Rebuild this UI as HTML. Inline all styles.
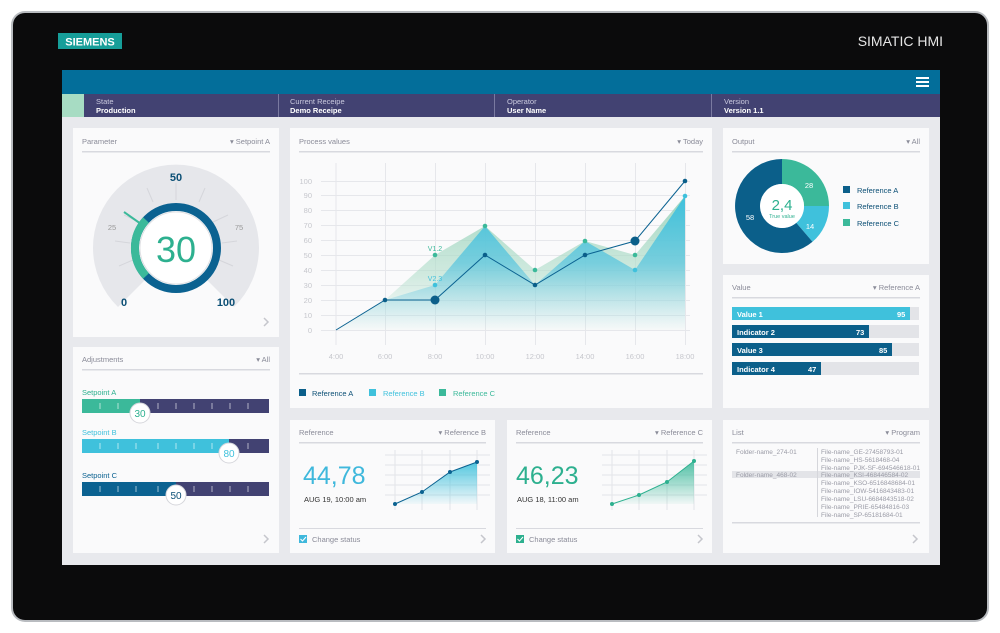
<!DOCTYPE html>
<html><head><meta charset="utf-8"><style>
body{margin:0;background:#fff;}
svg{display:block;font-family:"Liberation Sans",sans-serif;}
</style></head><body>
<svg width="1000" height="633" viewBox="0 0 1000 633">
<defs>
<linearGradient id="gb" gradientUnits="userSpaceOnUse" x1="0" y1="196" x2="0" y2="330"><stop offset="0" stop-color="#3fc1dc" stop-opacity="1"/><stop offset="0.5" stop-color="#5cc6de" stop-opacity="0.75"/><stop offset="1" stop-color="#8fd3e6" stop-opacity="0"/></linearGradient>
<linearGradient id="gc" gradientUnits="userSpaceOnUse" x1="0" y1="196" x2="0" y2="330"><stop offset="0" stop-color="#8fcfb5" stop-opacity="0.85"/><stop offset="0.6" stop-color="#b5dfcd" stop-opacity="0.6"/><stop offset="1" stop-color="#d5ece2" stop-opacity="0.1"/></linearGradient>
<linearGradient id="gs" x1="0" y1="0" x2="0" y2="1"><stop offset="0" stop-color="#3fc1dc" stop-opacity="0.9"/><stop offset="1" stop-color="#3fc1dc" stop-opacity="0.05"/></linearGradient>
<linearGradient id="gg" x1="0" y1="0" x2="0" y2="1"><stop offset="0" stop-color="#3bb99a" stop-opacity="0.9"/><stop offset="1" stop-color="#3bb99a" stop-opacity="0.05"/></linearGradient>
</defs>
<rect x="11" y="11" width="978" height="611" rx="14" fill="#b9bcc0"/>
<rect x="13" y="13" width="974" height="607" rx="12" fill="#0b0b0c"/>
<rect x="58" y="33" width="64" height="16" fill="#169e99"/>
<text x="90" y="45.5" font-size="11" font-weight="bold" fill="#fff" text-anchor="middle">SIEMENS</text>
<text x="943" y="46" font-size="14" fill="#e6e6e6" text-anchor="end">SIMATIC HMI</text>
<rect x="62" y="70" width="878" height="495" fill="#e8e9ed"/>
<rect x="62" y="70" width="878" height="24" fill="#036e9a"/>
<g fill="#fff"><rect x="916" y="77" width="13" height="2"/><rect x="916" y="81" width="13" height="2"/><rect x="916" y="85" width="13" height="2"/></g>
<rect x="62" y="94" width="878" height="23" fill="#424272"/>
<rect x="62" y="94" width="22" height="23" fill="#a7dcc3"/>
<g stroke="#7a7aa0" stroke-width="1"><line x1="278.5" y1="94" x2="278.5" y2="117"/><line x1="494.5" y1="94" x2="494.5" y2="117"/><line x1="711.5" y1="94" x2="711.5" y2="117"/></g>
<g font-size="7.5" fill="#c9c9de"><text x="96" y="104">State</text><text x="290" y="104">Current Receipe</text><text x="507" y="104">Operator</text><text x="724" y="104">Version</text></g>
<g font-size="7.5" font-weight="bold" fill="#fff"><text x="96" y="113">Production</text><text x="290" y="113">Demo Receipe</text><text x="507" y="113">User Name</text><text x="724" y="113">Version 1.1</text></g>
<g fill="#fafafb">
<rect x="73" y="128" width="206" height="209"/><rect x="73" y="347" width="206" height="206"/>
<rect x="290" y="128" width="422" height="280"/><rect x="290" y="420" width="205" height="133"/><rect x="507" y="420" width="205" height="133"/>
<rect x="723" y="128" width="206" height="136"/><rect x="723" y="275" width="206" height="133"/><rect x="723" y="420" width="206" height="133"/>
</g>
<g fill="#d8d9df"><rect x="82" y="151" width="188" height="1.5"/><rect x="82" y="369" width="188" height="1.5"/><rect x="299" y="151" width="404" height="1.5"/><rect x="299" y="373" width="404" height="1.5"/><rect x="299" y="442" width="187" height="1.5"/><rect x="516" y="442" width="187" height="1.5"/><rect x="299" y="528" width="187" height="1"/><rect x="516" y="528" width="187" height="1"/><rect x="732" y="151" width="188" height="1.5"/><rect x="732" y="297" width="188" height="1.5"/><rect x="732" y="442" width="188" height="1.5"/><rect x="732" y="522" width="188" height="1.5"/></g>
<g font-size="7.5" fill="#8a8b98">
<text x="82" y="144">Parameter</text><text x="270" y="144" text-anchor="end">▾ Setpoint A</text>
<text x="82" y="362">Adjustments</text><text x="270" y="362" text-anchor="end">▾ All</text>
<text x="299" y="144">Process values</text><text x="703" y="144" text-anchor="end">▾ Today</text>
<text x="299" y="435">Reference</text><text x="486" y="435" text-anchor="end">▾ Reference B</text>
<text x="516" y="435">Reference</text><text x="703" y="435" text-anchor="end">▾ Reference C</text>
<text x="732" y="144">Output</text><text x="920" y="144" text-anchor="end">▾ All</text>
<text x="732" y="290">Value</text><text x="920" y="290" text-anchor="end">▾ Reference A</text>
<text x="732" y="435">List</text><text x="920" y="435" text-anchor="end">▾ Program</text>
</g>
<g fill="none" stroke="#c5c6cc" stroke-width="1.5"><path d="M264 318l4 4-4 4"/><path d="M481 535l4 4-4 4"/><path d="M698 535l4 4-4 4"/><path d="M913 535l4 4-4 4"/><path d="M264 535l4 4-4 4"/></g>
<path d="M118 307 A83 83 0 1 1 234 307 L205 278 A41 41 0 1 0 147 278 Z" fill="#e6e7eb"/>
<g stroke="#d5d6db" stroke-width="1"><line x1="176" y1="183" x2="176" y2="200"/><line x1="147" y1="188" x2="153" y2="202"/><line x1="205" y1="188" x2="199" y2="202"/><line x1="124" y1="215" x2="139" y2="222"/><line x1="228" y1="215" x2="213" y2="222"/><line x1="115" y1="241" x2="130" y2="243"/><line x1="237" y1="241" x2="222" y2="243"/><line x1="119" y1="266" x2="133" y2="260"/><line x1="233" y1="266" x2="219" y2="260"/></g>
<circle cx="176" cy="248" r="41" fill="none" stroke="#0b6291" stroke-width="8"/>
<path d="M146 220 A41 41 0 0 0 146 276" fill="none" stroke="#3bb99a" stroke-width="8"/>
<line x1="124" y1="212" x2="141" y2="224" stroke="#3bb99a" stroke-width="2"/>
<circle cx="176" cy="248" r="36" fill="#fff" stroke="#e0e1e4"/>
<text x="176" y="262" font-size="36" fill="#2db08f" text-anchor="middle">30</text>
<text x="176" y="181" font-size="11" font-weight="bold" fill="#0b4f75" text-anchor="middle">50</text>
<text x="112" y="230" font-size="7.5" fill="#999" text-anchor="middle">25</text>
<text x="239" y="230" font-size="7.5" fill="#999" text-anchor="middle">75</text>
<text x="124" y="306" font-size="11" font-weight="bold" fill="#0b4f75" text-anchor="middle">0</text>
<text x="226" y="306" font-size="11" font-weight="bold" fill="#0b4f75" text-anchor="middle">100</text>
<g font-size="7.5"><text x="82" y="395" fill="#2db08f">Setpoint A</text><text x="82" y="435" fill="#3fc1dc">Setpoint B</text><text x="82" y="478" fill="#0b6291">Setpoint C</text></g>
<rect x="82" y="399" width="187" height="14" fill="#424272"/><rect x="82" y="399" width="58" height="14" fill="#3bb99a"/>
<rect x="82" y="439" width="187" height="14" fill="#424272"/><rect x="82" y="439" width="147" height="14" fill="#3fc1dc"/>
<rect x="82" y="482" width="187" height="14" fill="#424272"/><rect x="82" y="482" width="94" height="14" fill="#0b6291"/>
<g stroke="#fff" stroke-opacity="0.6"><path d="M100 403v6M118 403v6M158 403v6M176 403v6M194 403v6M212 403v6M230 403v6M248 403v6M100 443v6M118 443v6M136 443v6M158 443v6M176 443v6M194 443v6M212 443v6M248 443v6M100 486v6M118 486v6M136 486v6M158 486v6M194 486v6M212 486v6M230 486v6M248 486v6"/></g>
<g fill="#fff" stroke="#d5d6db"><circle cx="140" cy="413" r="10"/><circle cx="229" cy="453" r="10"/><circle cx="176" cy="495" r="10"/></g>
<g font-size="10" text-anchor="middle"><text x="140" y="417" fill="#2db08f">30</text><text x="229" y="457" fill="#3fc1dc">80</text><text x="176" y="499" fill="#0b4f75">50</text></g>
<g stroke="#e6e7eb" stroke-width="1">
<path d="M321 330.5H690M321 315.5H690M321 300.5H690M321 285.5H690M321 270.5H690M321 255.5H690M321 240.5H690M321 225.5H690M321 210.5H690M321 195.5H690M321 181.5H690"/>
<path d="M336 163V345M385.5 163V345M435.5 163V345M485.5 163V345M535.5 163V345M585.5 163V345M635.5 163V345M685.5 163V345"/>
</g>
<g font-size="7.5" fill="#c6c7cd" text-anchor="end"><text x="312" y="333">0</text><text x="312" y="318">10</text><text x="312" y="303">20</text><text x="312" y="288">30</text><text x="312" y="273">40</text><text x="312" y="258">50</text><text x="312" y="243">60</text><text x="312" y="228">70</text><text x="312" y="213">80</text><text x="312" y="198">90</text><text x="312" y="184">100</text></g>
<g font-size="7.5" fill="#c6c7cd" text-anchor="middle"><text x="336" y="359">4:00</text><text x="385" y="359">6:00</text><text x="435" y="359">8:00</text><text x="485" y="359">10:00</text><text x="535" y="359">12:00</text><text x="585" y="359">14:00</text><text x="635" y="359">16:00</text><text x="685" y="359">18:00</text></g>
<path d="M336 330L385 300L435 255L485 226L535 270L585 241L635 255L685 196L685 330Z" fill="url(#gc)"/>
<path d="M336 330L385 300L435 285L485 226L535 285L585 241L635 270L685 196L685 330Z" fill="url(#gb)"/>
<polyline points="336,330 385,300 435,300 485,255 535,285 585,255 635,241 685,181" fill="none" stroke="#0b6291" stroke-width="1"/>
<g fill="#3bb99a"><circle cx="435" cy="255" r="2.3"/><circle cx="485" cy="226" r="2.3"/><circle cx="535" cy="270" r="2.3"/><circle cx="585" cy="241" r="2.3"/><circle cx="635" cy="255" r="2.3"/></g>
<g fill="#3fc1dc"><circle cx="435" cy="285" r="2.3"/><circle cx="635" cy="270" r="2.3"/><circle cx="685" cy="196" r="2.3"/></g>
<g fill="#0b5f8a"><circle cx="385" cy="300" r="2.3"/><circle cx="485" cy="255" r="2.3"/><circle cx="535" cy="285" r="2.3"/><circle cx="585" cy="255" r="2.3"/><circle cx="685" cy="181" r="2.3"/><circle cx="435" cy="300" r="4.5"/><circle cx="635" cy="241" r="4.5"/></g>
<text x="435" y="251" font-size="7" fill="#3bb99a" text-anchor="middle">V1.2</text>
<text x="435" y="281" font-size="7" fill="#3fc1dc" text-anchor="middle">V2.3</text>
<rect x="299" y="389" width="7" height="7" fill="#0b5f8a"/><text x="312" y="396" font-size="7.5" fill="#0b4f75">Reference A</text>
<rect x="369" y="389" width="7" height="7" fill="#3fc1dc"/><text x="383" y="396" font-size="7.5" fill="#3fc1dc">Reference B</text>
<rect x="439" y="389" width="7" height="7" fill="#3bb99a"/><text x="453" y="396" font-size="7.5" fill="#3bb99a">Reference C</text>
<text x="303" y="484" font-size="25" fill="#3fb8dc">44,78</text>
<text x="304" y="502" font-size="7.5" fill="#333">AUG 19, 10:00 am</text>
<text x="516" y="484" font-size="25" fill="#2db08f">46,23</text>
<text x="517" y="502" font-size="7.5" fill="#333">AUG 18, 11:00 am</text>
<g stroke="#e3e4e8"><path d="M385 455H490M385 465H490M385 475H490M385 485H490M385 495H490M395 450V510M422 450V510M450 450V510M477 450V510"/><path d="M602 455H707M602 465H707M602 475H707M602 485H707M602 495H707M612 450V510M639 450V510M667 450V510M694 450V510"/></g>
<path d="M395 504L422 492L450 472L477 462V504Z" fill="url(#gs)"/>
<polyline points="395,504 422,492 450,472 477,462" fill="none" stroke="#0b6291"/>
<g fill="#0b6291"><circle cx="395" cy="504" r="2"/><circle cx="422" cy="492" r="2"/><circle cx="450" cy="472" r="2"/><circle cx="477" cy="462" r="2"/></g>
<path d="M612 504L639 495L667 482L694 461V504Z" fill="url(#gg)"/>
<polyline points="612,504 639,495 667,482 694,461" fill="none" stroke="#2db08f"/>
<g fill="#2db08f"><circle cx="612" cy="504" r="2"/><circle cx="639" cy="495" r="2"/><circle cx="667" cy="482" r="2"/><circle cx="694" cy="461" r="2"/></g>
<rect x="299" y="535" width="8" height="8" fill="#3fb8dc"/><path d="M300.5 539l2 2 3.5-4" stroke="#fff" fill="none"/>
<text x="312" y="542" font-size="7.5" fill="#8a8b98">Change status</text>
<rect x="516" y="535" width="8" height="8" fill="#2db08f"/><path d="M517.5 539l2 2 3.5-4" stroke="#fff" fill="none"/>
<text x="529" y="542" font-size="7.5" fill="#8a8b98">Change status</text>
<path d="M782 159 A47 47 0 0 1 829 206 L804 206 A22 22 0 0 0 782 184Z" fill="#3bb99a"/>
<path d="M829 206 A47 47 0 0 1 812.5 241.8 L796.3 222.9 A22 22 0 0 0 804 206Z" fill="#3fc1dc"/>
<path d="M812.5 241.8 A47 47 0 1 1 782 159 L782 184 A22 22 0 1 0 796.3 222.9Z" fill="#0b5f8a"/>
<circle cx="782" cy="206" r="22" fill="#fff"/>
<text x="782" y="210" font-size="15" fill="#2db08f" text-anchor="middle">2,4</text>
<text x="782" y="218" font-size="5.5" fill="#2db08f" text-anchor="middle">True value</text>
<g font-size="7.5" fill="#fff" text-anchor="middle"><text x="809" y="188">28</text><text x="810" y="229">14</text><text x="750" y="220">58</text></g>
<rect x="843" y="186" width="7" height="7" fill="#0b5f8a"/><text x="857" y="193" font-size="7.5" fill="#0b4f75">Reference A</text>
<rect x="843" y="202" width="7" height="7" fill="#3fc1dc"/><text x="857" y="209" font-size="7.5" fill="#0b4f75">Reference B</text>
<rect x="843" y="219" width="7" height="7" fill="#3bb99a"/><text x="857" y="226" font-size="7.5" fill="#0b4f75">Reference C</text>
<g fill="#e3e4e8"><rect x="732" y="307" width="187" height="13"/><rect x="732" y="325" width="187" height="13"/><rect x="732" y="343" width="187" height="13"/><rect x="732" y="362" width="187" height="13"/></g>
<rect x="732" y="307" width="178" height="13" fill="#3fc1dc"/><rect x="732" y="325" width="137" height="13" fill="#0b5f8a"/><rect x="732" y="343" width="160" height="13" fill="#0b5f8a"/><rect x="732" y="362" width="89" height="13" fill="#0b5f8a"/>
<g font-size="7.5" font-weight="bold" fill="#fff"><text x="737" y="317">Value 1</text><text x="737" y="335">Indicator 2</text><text x="737" y="353">Value 3</text><text x="737" y="372">Indicator 4</text><text x="897" y="317">95</text><text x="856" y="335">73</text><text x="879" y="353">85</text><text x="808" y="372">47</text></g>
<rect x="732" y="471" width="188" height="7" fill="#e3e4e8"/>
<line x1="817.5" y1="448" x2="817.5" y2="517" stroke="#d5d6db"/>
<g font-size="6.5" fill="#9a9ba6"><text x="736" y="454">Folder-name_274-01</text><text x="736" y="477">Folder-name_468-02</text>
<text x="821" y="454">File-name_GE-27458793-01</text><text x="821" y="462">File-name_HS-5618468-04</text><text x="821" y="470">File-name_PJK-SF-694546618-01</text><text x="821" y="477">File-name_KSI-468446584-02</text><text x="821" y="485">File-name_KSO-6516848684-01</text><text x="821" y="493">File-name_IOW-5416843483-01</text><text x="821" y="501">File-name_LSU-6684843518-02</text><text x="821" y="509">File-name_PRIE-65484816-03</text><text x="821" y="517">File-name_SP-65181684-01</text></g>
</svg>
</body></html>
